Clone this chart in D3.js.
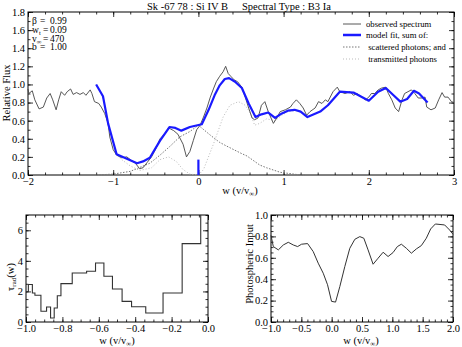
<!DOCTYPE html>
<html>
<head>
<meta charset="utf-8">
<script src="https://cdn.jsdelivr.net/npm/d3@7"></script>
<style>
body { margin: 0; background: #fff; }
text { font-family: "Liberation Serif", "DejaVu Serif", serif; }
</style>
</head>
<body>
<script>
// observed spectrum
var obsW = [-2.00,-1.99,-1.95,-1.92,-1.87,-1.82,-1.78,-1.74,-1.71,-1.67,-1.64,-1.61,-1.57,-1.54,-1.50,-1.47,-1.43,-1.39,-1.35,-1.32,-1.27,-1.25,-1.22,-1.17,-1.14,-1.10,-1.06,-1.04,-1.00,-0.96,-0.90,-0.84,-0.80,-0.74,-0.69,-0.65,-0.60,-0.55,-0.50,-0.45,-0.39,-0.35,-0.33,-0.29,-0.24,-0.18,-0.14,-0.10,-0.06,-0.02,0.02,0.06,0.10,0.14,0.18,0.21,0.25,0.29,0.32,0.35,0.38,0.42,0.46,0.51,0.55,0.59,0.63,0.66,0.70,0.74,0.78,0.82,0.88,0.92,0.96,1.02,1.08,1.11,1.15,1.19,1.23,1.27,1.31,1.37,1.41,1.45,1.49,1.52,1.58,1.63,1.66,1.72,1.78,1.82,1.86,1.92,1.96,2.00,2.03,2.07,2.11,2.15,2.20,2.23,2.27,2.31,2.35,2.39,2.42,2.46,2.50,2.54,2.58,2.62,2.66,2.68,2.73,2.78,2.82,2.86,2.89,2.93,2.97,3.00];
var obsF = [0.95,0.90,0.93,0.83,0.73,0.75,0.85,0.90,0.83,0.72,0.83,0.92,0.88,0.92,0.95,0.89,0.91,0.89,0.91,0.88,0.94,0.90,0.81,0.79,0.75,0.68,0.57,0.42,0.28,0.22,0.19,0.20,0.17,0.13,0.07,0.08,0.14,0.20,0.29,0.40,0.46,0.52,0.51,0.49,0.45,0.34,0.20,0.26,0.38,0.50,0.55,0.64,0.74,0.86,0.96,1.03,1.09,1.14,1.20,1.12,1.09,1.05,1.03,0.97,0.86,0.74,0.63,0.61,0.63,0.77,0.81,0.70,0.57,0.63,0.70,0.72,0.75,0.79,0.83,0.79,0.74,0.66,0.70,0.74,0.81,0.79,0.83,0.81,0.92,0.97,0.92,0.90,0.92,0.88,0.90,0.86,0.83,0.86,0.90,0.90,0.94,0.96,0.97,0.90,0.83,0.74,0.70,0.83,0.90,0.92,0.94,0.90,0.85,0.85,0.86,0.75,0.72,0.74,0.83,0.91,0.86,0.86,0.81,0.80];

// model fit
var modW = [-1.20,-1.12,-1.06,-0.96,-0.72,-0.65,-0.57,-0.45,-0.34,-0.27,-0.20,-0.10,0.04,0.12,0.19,0.25,0.31,0.36,0.43,0.51,0.59,0.67,0.74,0.82,0.90,0.98,1.05,1.13,1.20,1.28,1.43,1.52,1.66,1.82,2.00,2.11,2.20,2.29,2.37,2.45,2.53,2.59,2.69];
var modF = [1.00,0.87,0.57,0.23,0.13,0.15,0.19,0.38,0.53,0.52,0.49,0.53,0.56,0.72,0.88,0.99,1.06,1.07,1.03,0.96,0.79,0.64,0.67,0.69,0.63,0.68,0.71,0.72,0.70,0.64,0.70,0.77,0.92,0.91,0.82,0.92,0.96,0.88,0.81,0.84,0.93,0.90,0.80];

// scattered photons
var scaW = [-1.20,-1.00,-0.80,-0.57,-0.45,-0.33,-0.22,-0.10,0.00,0.14,0.25,0.33,0.50,0.57,0.72,0.80,0.96,1.04,1.20,1.25];
var scaF = [0.00,0.01,0.04,0.13,0.22,0.32,0.42,0.48,0.55,0.44,0.36,0.32,0.24,0.21,0.11,0.08,0.03,0.02,0.00,0.00];

// transmitted photons
var traW = [-1.20,-1.12,-1.06,-0.96,-0.90,-0.80,-0.69,-0.55,-0.45,-0.35,-0.26,-0.18,-0.10,0.00,0.06,0.18,0.29,0.37,0.47,0.55,0.61,0.66,0.72,0.80,0.90,0.98,1.05,1.13,1.20,1.28];
var traF = [1.00,0.86,0.56,0.22,0.17,0.10,0.05,0.08,0.17,0.20,0.15,0.06,0.01,0.00,0.06,0.35,0.64,0.77,0.81,0.77,0.68,0.55,0.57,0.62,0.60,0.66,0.70,0.71,0.70,0.64];

// tau_rad step function
var tauEdges = [-1.0,-0.987,-0.965,-0.951,-0.918,-0.887,-0.865,-0.845,-0.828,-0.808,-0.746,-0.667,-0.618,-0.572,-0.525,-0.472,-0.420,-0.342,-0.247,-0.142,-0.040,0.0];
var tauVals = [2.0,2.45,1.9,1.75,0.70,0.98,0.26,0.92,1.72,2.51,3.21,3.32,3.86,2.99,2.16,1.35,1.00,0.59,1.90,5.13,9.0];

// photospheric input
var phoW = [-1.0,-0.962,-0.879,-0.797,-0.715,-0.633,-0.561,-0.496,-0.397,-0.304,-0.222,-0.139,-0.068,-0.002,0.064,0.135,0.217,0.299,0.382,0.464,0.53,0.60,0.683,0.765,0.848,0.930,1.012,1.083,1.149,1.231,1.314,1.396,1.478,1.560,1.632,1.709,1.862,1.944,2.0];
var phoF = [0.81,0.705,0.674,0.72,0.745,0.72,0.705,0.727,0.733,0.658,0.55,0.456,0.348,0.193,0.186,0.332,0.519,0.689,0.773,0.798,0.783,0.674,0.54,0.596,0.652,0.612,0.649,0.705,0.727,0.689,0.643,0.683,0.714,0.783,0.87,0.916,0.907,0.86,0.82];

var params = [["β", "", "0.99"], ["w", "t", "0.09"], ["v", "∞", "470"], ["b", "", "1.00"]];
var legendLabels = ["observed spectrum", "model fit, sum of:", " scattered photons; and", " transmitted photons"];

function zip(a, b) { return a.map(function(d, i) { return [d, b[i]]; }); }
function range(a, b, s) { return d3.range(Math.round((b - a) / s) + 1).map(function(i) { return +(a + i * s).toFixed(4); }); }

var svg = d3.select("body").append("svg")
  .attr("width", 462)
  .attr("height", 347);

function panel(box, xd, yd, xMaj, xMin, yMaj, yMin, xFmt, yFmt) {
  var x = d3.scaleLinear().domain(xd).range([box.l, box.r]);
  var y = d3.scaleLinear().domain(yd).range([box.b, box.t]);
  var g = svg.append("g");
  var axes = [
    [d3.axisBottom(x).tickValues(xMaj).tickFormat(xFmt), "translate(0," + box.b + ")"],
    [d3.axisBottom(x).tickValues(xMin).tickFormat(""), "translate(0," + box.b + ")", 1],
    [d3.axisTop(x).tickValues(xMaj).tickFormat(""), "translate(0," + box.t + ")"],
    [d3.axisTop(x).tickValues(xMin).tickFormat(""), "translate(0," + box.t + ")", 1],
    [d3.axisLeft(y).tickValues(yMaj).tickFormat(yFmt), "translate(" + box.l + ",0)"],
    [d3.axisLeft(y).tickValues(yMin).tickFormat(""), "translate(" + box.l + ",0)", 1],
    [d3.axisRight(y).tickValues(yMaj).tickFormat(""), "translate(" + box.r + ",0)"],
    [d3.axisRight(y).tickValues(yMin).tickFormat(""), "translate(" + box.r + ",0)", 1]
  ];
  axes.forEach(function(a) {
    var ax = g.append("g").attr("transform", a[1])
      .call(a[0].tickSize(a[2] ? -2.5 : -5).tickPadding(3));
    ax.select(".domain").remove();
    ax.attr("font-family", "Liberation Serif").attr("font-size", 10.5);
    ax.selectAll("text").attr("fill", "#000");
    ax.selectAll("line").attr("stroke", "#000").attr("stroke-width", 0.8);
  });
  g.append("rect")
    .attr("x", box.l).attr("y", box.t)
    .attr("width", box.r - box.l).attr("height", box.b - box.t)
    .attr("fill", "none").attr("stroke", "#000").attr("stroke-width", 1);
  return {x: x, y: y, g: g};
}

function xlabel(g, cx, cy) {
  var t = g.append("text").attr("x", cx).attr("y", cy).attr("text-anchor", "middle").attr("font-size", 10.5);
  t.append("tspan").text("w (v/v");
  t.append("tspan").attr("font-size", 7).attr("dy", 2).text("∞");
  t.append("tspan").attr("dy", -2).text(")");
}

var f1 = d3.format(".1f");

// ---------- top panel ----------
var pTop = panel({l: 28, r: 454, t: 12, b: 175}, [-2, 3], [0, 1.8],
  [-2, -1, 0, 1, 2, 3], range(-2, 3, 0.2), range(0, 1.8, 0.2), range(0, 1.8, 0.1),
  d3.format("d"), f1);

var line = d3.line().x(function(d) { return pTop.x(d[0]); }).y(function(d) { return pTop.y(d[1]); });

pTop.g.append("path").datum(zip(scaW, scaF)).attr("d", line)
  .attr("fill", "none").attr("stroke", "#777").attr("stroke-width", 1).attr("stroke-dasharray", "1.5,1.5");
pTop.g.append("path").datum(zip(traW, traF)).attr("d", line)
  .attr("fill", "none").attr("stroke", "#bbb").attr("stroke-width", 1).attr("stroke-dasharray", "1,2");
pTop.g.append("path").datum(zip(obsW, obsF)).attr("d", line)
  .attr("fill", "none").attr("stroke", "#444").attr("stroke-width", 0.9);
pTop.g.append("path").datum(zip(modW, modF)).attr("d", line)
  .attr("fill", "none").attr("stroke", "#1a1aff").attr("stroke-width", 2.2).attr("stroke-linejoin", "round");
pTop.g.append("line")
  .attr("x1", pTop.x(0)).attr("x2", pTop.x(0)).attr("y1", pTop.y(0)).attr("y2", pTop.y(0.17))
  .attr("stroke", "#1a1aff").attr("stroke-width", 2.2);

svg.append("text").attr("x", 147).attr("y", 9.5).attr("font-size", 10.5).text("Sk -67 78 : Si IV B");
svg.append("text").attr("x", 242).attr("y", 9.5).attr("font-size", 10.5).text("Spectral Type : B3 Ia");

svg.append("text").attr("transform", "translate(9.5,93) rotate(-90)")
  .attr("text-anchor", "middle").attr("font-size", 10.5).text("Relative Flux");
xlabel(svg, 240, 194);

// fit parameters
var eqX = [40, 43, 43, 40];
params.forEach(function(p, i) {
  var yy = 24 + i * 8.8;
  var t = svg.append("text").attr("x", 32).attr("y", yy).attr("font-size", 9.5);
  t.append("tspan").text(p[0]);
  if (p[1]) t.append("tspan").attr("font-size", 6.5).attr("dy", 2).text(p[1]);
  svg.append("text").attr("x", eqX[i]).attr("y", yy).attr("font-size", 9.5).text("=");
  svg.append("text").attr("x", 50).attr("y", yy).attr("font-size", 9.5).text(p[2]);
});

// legend
var legStyles = [
  {c: "#444", w: 0.9, d: null},
  {c: "#1a1aff", w: 2.5, d: null},
  {c: "#777", w: 1, d: "1.5,1.5"},
  {c: "#bbb", w: 1, d: "1,2"}
];
var legY = [24, 35, 47, 59];
legendLabels.forEach(function(s, i) {
  svg.append("line").attr("x1", 343).attr("x2", 361).attr("y1", legY[i]).attr("y2", legY[i])
    .attr("stroke", legStyles[i].c).attr("stroke-width", legStyles[i].w)
    .attr("stroke-dasharray", legStyles[i].d);
  svg.append("text").attr("x", 366).attr("y", legY[i] + 3).attr("font-size", 8.7)
    .attr("xml:space", "preserve").style("white-space", "pre").text(s);
});

// ---------- bottom left: tau ----------
var bl = panel({l: 26, r: 208, t: 215, b: 322}, [-1, 0], [0, 7],
  range(-1, 0, 0.2), range(-1, 0, 0.05), [0, 2, 4, 6], range(0, 7, 0.5),
  f1, d3.format("d"));

svg.append("clipPath").attr("id", "clipTau").append("rect")
  .attr("x", 26).attr("y", 215).attr("width", 182).attr("height", 107);
var tauPts = tauVals.map(function(v, i) { return [tauEdges[i], v]; });
tauPts.push([tauEdges[tauEdges.length - 1], tauVals[tauVals.length - 1]]);
bl.g.append("path").datum(tauPts)
  .attr("clip-path", "url(#clipTau)")
  .attr("d", d3.line().curve(d3.curveStepAfter)
    .x(function(d) { return bl.x(d[0]); }).y(function(d) { return bl.y(d[1]); }))
  .attr("fill", "none").attr("stroke", "#333").attr("stroke-width", 1.1);

var tl = svg.append("text").attr("transform", "translate(14,277) rotate(-90)")
  .attr("text-anchor", "middle").attr("font-size", 10.5);
tl.append("tspan").text("τ");
tl.append("tspan").attr("font-size", 7).attr("dy", 2).text("rad");
tl.append("tspan").attr("dy", -2).text("(w)");
xlabel(svg, 117, 344);

// ---------- bottom right: photospheric input ----------
var br = panel({l: 271, r: 453, t: 215, b: 322}, [-1, 2], [0, 1],
  range(-1, 2, 0.5), range(-1, 2, 0.1), range(0, 1, 0.2), range(0, 1, 0.05),
  f1, f1);

br.g.append("path").datum(zip(phoW, phoF))
  .attr("d", d3.line().x(function(d) { return br.x(d[0]); }).y(function(d) { return br.y(d[1]); }))
  .attr("fill", "none").attr("stroke", "#333").attr("stroke-width", 1);

svg.append("text").attr("transform", "translate(252.5,264) rotate(-90)")
  .attr("text-anchor", "middle").attr("font-size", 10.5).text("Photospheric Input");
xlabel(svg, 361, 344);
</script>
</body>
</html>
